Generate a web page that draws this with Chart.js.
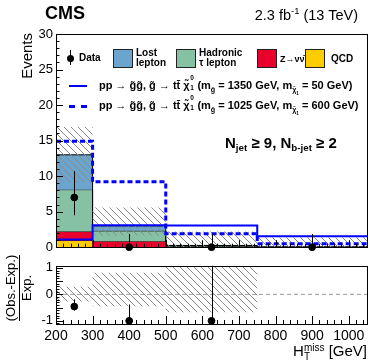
<!DOCTYPE html>
<html>
<head>
<meta charset="utf-8">
<script src="https://cdn.jsdelivr.net/npm/chart.js@4.4.1/dist/chart.umd.min.js"></script>
<style>
  body { margin: 0; background: #fff; font-family: 'Liberation Sans', Arial, sans-serif; }
  #wrap { position: relative; width: 374px; height: 363px; overflow: hidden; }
  canvas { position: absolute; left: 0; }
  .t { position: absolute; white-space: nowrap; color: #000; }
  .b { font-weight: bold; }
  .box { position: absolute; width: 20px; height: 19px; box-sizing: border-box; border: 1px solid #222; }
  .leg { font-size: 10px; font-weight: bold; line-height: 10px; }
  .sig { font-size: 11px; font-weight: bold; }
  .chi { display: inline-block; position: relative; width: 11px; }
  .chi .u { position: absolute; left: 7px; top: -5px; font-size: 6.5px; }
  .chi .d { position: absolute; left: 7px; top: 5px; font-size: 6.5px; }
  .ss { display: inline-block; font-size: 10px; line-height: 9px; vertical-align: -4px; text-align: left; }
  .ss span { display: block; }
  sub { font-size: 65%; vertical-align: -3px; }
  sup { font-size: 65%; vertical-align: 6px; }
</style>
</head>
<body>
<div id="wrap">
  <canvas id="main" width="374" height="258" style="top:0"></canvas>
  <canvas id="ratio" width="374" height="108" style="top:255px"></canvas>

  <div class="t b" style="left:45px; top:3px; font-size:18px;">CMS</div>
  <div class="t" style="right:16px; top:5px; font-size:14.5px;">2.3 fb<sup>-1</sup> (13 TeV)</div>

  <div class="t" style="left:18px; top:153px; width:120px; text-align:right; font-size:15px; line-height:18px; transform:rotate(-90deg); transform-origin:top left;">Events</div>

  <div class="t" style="left:4px; top:328px; width:80px; text-align:center; font-size:13px; line-height:14px; transform:rotate(-90deg); transform-origin:top left;">
    <div style="display:inline-block;">
      <div style="border-bottom:1px solid #000; padding-bottom:1px;">(Obs.-Exp.)</div>
      <div>Exp.</div>
    </div>
  </div>

  <div class="t" style="right:7px; top:342px; font-size:15px;">H<span class="ss"><span>miss</span><span>T</span></span> [GeV]</div>

  <!-- legend -->
  <div style="position:absolute; left:69.5px; top:50px; width:1px; height:15px; background:#000;"></div>
  <div style="position:absolute; left:66.5px; top:54.5px; width:7px; height:7px; border-radius:50%; background:#000;"></div>
  <div class="t leg" style="left:79px; top:53px;">Data</div>

  <div class="box" style="left:113px; top:49px; background:#6ba5cd;"></div>
  <div class="t leg" style="left:136px; top:48px;">Lost<br>lepton</div>
  <div class="box" style="left:176px; top:49px; background:#86c1a3;"></div>
  <div class="t leg" style="left:199px; top:48px;">Hadronic<br>τ lepton</div>
  <div class="box" style="left:257px; top:49px; background:#ea002c;"></div>
  <div class="t leg" style="left:280px; top:54px; font-size:9px;">Z→νν̄</div>
  <div class="box" style="left:305px; top:49px; background:#ffcc00;"></div>
  <div class="t leg" style="left:331px; top:54px;">QCD</div>

  <div style="position:absolute; left:69px; top:85px; width:18px; height:2px; background:#0000ff;"></div>
  <div class="t sig" style="left:99px; top:79px;">pp → g̃g̃, g̃ → tt̄ <span class="chi">χ̃<span class="u">0</span><span class="d">1</span></span> (m<sub>g̃</sub> = 1350 GeV, m<sub>χ̃<sub>1</sub></sub> = 50 GeV)</div>
  <div style="position:absolute; left:69px; top:105px; width:18px; height:0; border-top:3px dashed #0000ff;"></div>
  <div class="t sig" style="left:99px; top:99px;">pp → g̃g̃, g̃ → tt̄ <span class="chi">χ̃<span class="u">0</span><span class="d">1</span></span> (m<sub>g̃</sub> = 1025 GeV, m<sub>χ̃<sub>1</sub></sub> = 600 GeV)</div>

  <div class="t b" style="left:225px; top:134px; font-size:15px;">N<sub>jet</sub> ≥ 9, N<sub>b-jet</sub> ≥ 2</div>
</div>

<script>
// Binning in H_T^miss (GeV)
const binEdges = [200, 300, 500, 750, 1050];

// Background components per bin
const qcd = [0.95, 0, 0, 0];
const znunu = [1.25, 0.85, 0.1, 0];
const hadTau = [5.9, 1.45, 0.1, 0];
const lostLepton = [4.9, 0.7, 0.05, 0];
const bkgUncUp = [16.9, 5.6, 2.2, 1.35];
const bkgUncDown = [9.1, 1.65, 0, 0];

// Signal models
const sig1350 = [1.1, 3.1, 3.05, 1.55];
const sig1025 = [14.9, 9.2, 1.9, 0.5];

// Observed data
const dataX = [250, 400, 625, 900];
const dataY = [7, 0, 0, 0];
const dataErrLo = [2.5, 0, 0, 0];
const dataErrHi = [3.7, 1.84, 1.84, 1.84];

// Ratio panel
const ratioX = [250, 400, 625];
const ratioY = [-0.46, -1, -1];
const ratioErrLo = [0.15, 0, 0];
const ratioErrHi = [0.27, 0.62, 2.5];
const ratioUncUp = [0.29, 0.82, 1.2, 0];
const ratioUncDown = [-0.27, -0.45, -0.68, 0];

// Tick labels
const xTicks = [200, 300, 400, 500, 600, 700, 800, 900, 1000];
const mainYTicks = [0, 5, 10, 15, 20, 25, 30];
const ratioYTicks = [-1, -0.5, 0, 0.5, 1];

Chart.defaults.font.family = "'Liberation Sans', Arial, sans-serif";
Chart.defaults.color = '#000';

// turn bin contents into points for a stepped line
function steps(vals) {
    return binEdges.map((x, i) => ({ x: x, y: vals[Math.min(i, vals.length - 1)] }));
}
function addUp(a, b) {
    return a.map((v, i) => v + b[i]);
}

const cumQcd = qcd;
const cumZ = addUp(cumQcd, znunu);
const cumTau = addUp(cumZ, hadTau);
const cumLL = addUp(cumTau, lostLepton);

// grey diagonal hatch for uncertainties
function makeHatch() {
    const c = document.createElement('canvas');
    c.width = 7; c.height = 7;
    const g = c.getContext('2d');
    g.strokeStyle = '#8a8a8a';
    g.lineWidth = 1;
    [-7, 0, 7].forEach(k => {
        g.beginPath();
        g.moveTo(k, 0);
        g.lineTo(k + 7, 7);
        g.stroke();
    });
    return g.createPattern(c, 'repeat');
}
const hatch = makeHatch();

// ROOT style frame with inward ticks
const frameTicks = {
    id: 'frameTicks',
    afterDraw(chart, args, o) {
        const ctx = chart.ctx, a = chart.chartArea;
        const xs = chart.scales.x, ys = chart.scales.y;
        ctx.save();
        ctx.strokeStyle = '#000';
        ctx.lineWidth = 1;
        ctx.beginPath();
        for (let v = xs.min; v <= xs.max + 1e-9; v += o.xMinor) {
            const len = Math.abs(v / o.xMajor - Math.round(v / o.xMajor)) < 1e-6 ? o.xLen : o.xLen / 2;
            const px = Math.round(xs.getPixelForValue(v)) + 0.5;
            ctx.moveTo(px, a.bottom);
            ctx.lineTo(px, a.bottom - len);
        }
        const y0 = Math.ceil(ys.min / o.yMinor - 1e-6) * o.yMinor;
        for (let v = y0; v <= ys.max + 1e-9; v += o.yMinor) {
            const len = Math.abs(v / o.yMajor - Math.round(v / o.yMajor)) < 1e-6 ? o.yLen : o.yLen / 2;
            const py = Math.round(ys.getPixelForValue(v)) + 0.5;
            ctx.moveTo(a.left, py);
            ctx.lineTo(a.left + len, py);
        }
        ctx.stroke();
        ctx.strokeRect(Math.round(a.left) + 0.5, Math.round(a.top) + 0.5,
            Math.round(a.right - a.left), Math.round(a.bottom - a.top));
        ctx.restore();
    }
};

// vertical error bars on the data points
const errorBars = {
    id: 'errorBars',
    afterDatasetsDraw(chart, args, o) {
        const ctx = chart.ctx, a = chart.chartArea;
        const xs = chart.scales.x, ys = chart.scales.y;
        ctx.save();
        ctx.beginPath();
        ctx.rect(a.left, a.top, a.right - a.left, a.bottom - a.top);
        ctx.clip();
        ctx.strokeStyle = '#000';
        ctx.lineWidth = 1;
        o.x.forEach((xv, i) => {
            const px = Math.round(xs.getPixelForValue(xv)) + 0.5;
            ctx.beginPath();
            ctx.moveTo(px, ys.getPixelForValue(o.y[i] - o.lo[i]));
            ctx.lineTo(px, ys.getPixelForValue(o.y[i] + o.hi[i]));
            ctx.stroke();
        });
        ctx.restore();
    }
};

function stepLine(label, vals, opts) {
    return Object.assign({
        label: label,
        data: steps(vals),
        stepped: true,
        pointRadius: 0,
        borderWidth: 1,
        borderColor: '#000',
        backgroundColor: 'transparent',
        fill: false
    }, opts);
}

const xScale = { type: 'linear', min: 200, max: 1050, display: false };

new Chart(document.getElementById('main'), {
    type: 'line',
    data: {
        datasets: [
            { type: 'scatter', label: 'Data',
              data: dataX.map((x, i) => ({ x: x, y: dataY[i] })),
              pointRadius: 3.4, pointBackgroundColor: '#000', pointBorderColor: '#000',
              showLine: false, clip: false, order: 0 },
            stepLine('sig1350', sig1350, { borderColor: '#0000ff', borderWidth: 2, order: 1 }),
            stepLine('sig1025', sig1025, { borderColor: '#0000ff', borderWidth: 3, borderDash: [5, 3], order: 2 }),
            stepLine('uncDown', bkgUncDown, { borderWidth: 0, order: 4 }),
            stepLine('uncUp', bkgUncUp, { borderWidth: 0, backgroundColor: hatch, fill: 3, order: 3 }),
            stepLine('QCD', cumQcd, { backgroundColor: '#ffcc00', fill: 'origin', order: 8 }),
            stepLine('Znunu', cumZ, { backgroundColor: '#ea002c', fill: '-1', order: 7 }),
            stepLine('HadTau', cumTau, { backgroundColor: '#86c1a3', fill: '-1', order: 6 }),
            stepLine('LostLepton', cumLL, { backgroundColor: '#6ba5cd', fill: '-1', order: 5 })
        ]
    },
    options: {
        responsive: false,
        animation: false,
        layout: { padding: { top: 34, right: 7, bottom: 5, left: 0 } },
        plugins: {
            legend: { display: false },
            tooltip: { enabled: false },
            frameTicks: { xMinor: 20, xMajor: 100, xLen: 7, yMinor: 1, yMajor: 5, yLen: 7 },
            errorBars: { x: dataX, y: dataY, lo: dataErrLo, hi: dataErrHi }
        },
        scales: {
            x: xScale,
            y: {
                min: 0, max: 30,
                afterBuildTicks: s => { s.ticks = mainYTicks.map(v => ({ value: v })); },
                afterFit: s => { s.width = 56; },
                grid: { display: false, drawTicks: false },
                border: { display: false },
                ticks: { font: { size: 13 }, padding: 3, callback: v => String(v) }
            }
        }
    },
    plugins: [frameTicks, errorBars]
});

new Chart(document.getElementById('ratio'), {
    type: 'line',
    data: {
        datasets: [
            { type: 'scatter', label: 'Ratio',
              data: ratioX.map((x, i) => ({ x: x, y: ratioY[i] })),
              pointRadius: 3.4, pointBackgroundColor: '#000', pointBorderColor: '#000',
              showLine: false, clip: false, order: 0 },
            { label: 'zero', data: [{ x: 200, y: 0 }, { x: 1050, y: 0 }],
              borderColor: '#9a9a9a', borderWidth: 1, borderDash: [4, 3], pointRadius: 0, order: 1 },
            stepLine('rDown', ratioUncDown, { borderWidth: 0, order: 3 }),
            stepLine('rUp', ratioUncUp, { borderWidth: 0, backgroundColor: hatch, fill: 2, order: 2 })
        ]
    },
    options: {
        responsive: false,
        animation: false,
        layout: { padding: { top: 7, right: 7, bottom: 0, left: 0 } },
        plugins: {
            legend: { display: false },
            tooltip: { enabled: false },
            frameTicks: { xMinor: 20, xMajor: 100, xLen: 8, yMinor: 0.1, yMajor: 0.5, yLen: 7 },
            errorBars: { x: ratioX, y: ratioY, lo: ratioErrLo, hi: ratioErrHi }
        },
        scales: {
            x: {
                type: 'linear', min: 200, max: 1050,
                afterBuildTicks: s => { s.ticks = xTicks.map(v => ({ value: v })); },
                afterFit: s => { s.height = 39; },
                grid: { display: false, drawTicks: false },
                border: { display: false },
                ticks: { font: { size: 14 }, padding: 4, maxRotation: 0, autoSkip: false, callback: v => String(v) }
            },
            y: {
                min: -1.12, max: 1.08,
                afterBuildTicks: s => { s.ticks = ratioYTicks.map(v => ({ value: v })); },
                afterFit: s => { s.width = 56; },
                grid: { display: false, drawTicks: false },
                border: { display: false },
                ticks: { font: { size: 13 }, padding: 3, callback: v => String(v) }
            }
        }
    },
    plugins: [frameTicks, errorBars]
});
</script>
</body>
</html>
